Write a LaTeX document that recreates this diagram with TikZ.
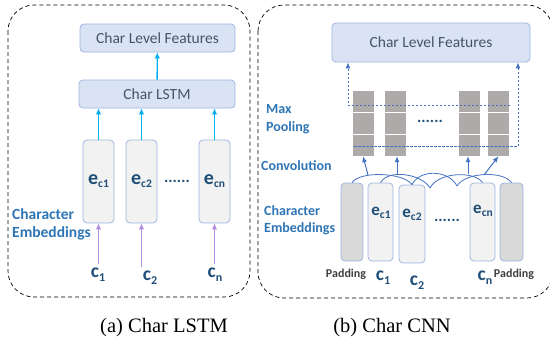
\documentclass[tikz,border=0pt]{standalone}
\usepackage{fontspec}
\setmainfont{Liberation Serif}
\newfontfamily\calibri{Carlito}
\usepackage{xcolor}
\usetikzlibrary{arrows.meta, positioning, shapes}
\definecolor{boxblue}{HTML}{DAE3F3}
\definecolor{edgeblue}{HTML}{9DB5E0}
\definecolor{slate}{HTML}{44546A}
\definecolor{navy}{HTML}{1F4E79}
\definecolor{lblblue}{HTML}{2E75B6}
\definecolor{cyanarr}{HTML}{00B0F0}
\definecolor{purparr}{HTML}{B08CE0}
\definecolor{darkarr}{HTML}{4472C4}
\definecolor{cellgray}{HTML}{AEAAAA}
\definecolor{padgray}{HTML}{D9D9D9}
\definecolor{embgray}{HTML}{F2F2F2}
\newcommand{\emb}[1]{e\raisebox{-3pt}{\fontsize{11.5}{11.5}\selectfont c#1}}
\newcommand{\chr}[1]{c\raisebox{-4pt}{\fontsize{12}{12}\selectfont #1}}

\begin{document}
\begin{tikzpicture}[x=1pt, y=-1pt,
    panel/.style={draw, dash pattern=on 4pt off 3pt, rounded corners=26pt, line width=0.7pt},
    featbox/.style={draw=edgeblue, fill=boxblue, rounded corners=4pt, line width=0.8pt, text=slate, font=\calibri\fontsize{15.5}{15.5}\selectfont},
    embbox/.style={draw=edgeblue, fill=embgray, rounded corners=4pt, line width=0.8pt, minimum width=31pt, minimum height=83pt, inner sep=0pt, text=navy, font=\calibri\bfseries\fontsize{20}{20}\selectfont},
    embboxB/.style={embbox, minimum width=25pt, minimum height=78pt},
    padbox/.style={embboxB, fill=padgray, minimum width=22pt},
    emblbl/.style={text=navy, inner sep=0pt, font=\calibri\bfseries\fontsize{17}{17}\selectfont},
    chrlbl/.style={anchor=base, inner sep=3pt, text=navy, font=\calibri\bfseries\fontsize{19.5}{19.5}\selectfont},
    sidelbl/.style={anchor=west, align=left, text=lblblue, inner sep=0pt},
    padlbl/.style={text=black!75, inner sep=0pt, font=\calibri\bfseries\fontsize{12}{12}\selectfont},
    dotlbl/.style={text=navy, inner sep=0pt, font=\calibri\bfseries\fontsize{16}{16}\selectfont},
    cell/.style={fill=cellgray, minimum width=21pt, minimum height=21pt, inner sep=0pt},
    cyanline/.style={draw=cyanarr, line width=1.4pt, -{Latex[length=6pt,width=5.5pt]}},
    purpline/.style={draw=purparr, line width=1.4pt, -{Latex[length=6pt,width=5.5pt]}},
    pooldash/.style={draw=darkarr, line width=0.9pt, dash pattern=on 2.5pt off 1.5pt, -{Latex[length=6pt,width=5pt]}},
    convline/.style={draw=darkarr, line width=0.8pt},
    convarrow/.style={draw=darkarr, line width=1pt, -{Latex[length=6pt,width=5pt]}},
    caption/.style={inner sep=0pt, font=\fontsize{20.5}{24}\selectfont}]
    \useasboundingbox (0,0) rectangle (550,341);
    \clip (0,0) rectangle (550,341);

    % (a) Char LSTM
    \draw[panel] (8,5) rectangle (250,297);
    \node[featbox, minimum width=155pt, minimum height=28pt] (featA) at (157.5,38) {Char Level Features};
    \node[featbox, minimum width=156pt, minimum height=28pt] (lstm) at (157,94) {Char LSTM};
    \node[embbox] (eA1) at (98.5,181.5) {\emb{1}};
    \node[embbox] (eA2) at (141.5,181.5) {\emb{2}};
    \node[embbox] (eAn) at (214.5,181.5) {\emb{n}};
    \node[dotlbl] (dotsA) at (177,181) {......};
    \node[sidelbl, font=\calibri\bfseries\fontsize{15.5}{18}\selectfont] (embA) at (12,224) {Character\\Embeddings};
    \node[chrlbl] (cA1) at (98,277) {\chr{1}};
    \node[chrlbl] (cA2) at (150,280) {\chr{2}};
    \node[chrlbl] (cAn) at (215,277) {\chr{n}};
    \draw[cyanline] (lstm) -- (featA);
    \foreach \e in {eA1,eA2,eAn} \draw[cyanline] (\e.north) -- (\e.north |- lstm.south);
    \foreach \c/\e in {cA1/eA1,cA2/eA2,cAn/eAn} \draw[purpline] (\e.south |- \c.north) -- (\e.south);

    % (b) Char CNN
    \draw[panel] (258,5) rectangle (553,298);
    \node[featbox, minimum width=198pt, minimum height=39pt] (featB) at (431,42.5) {Char Level Features};
    \foreach \i/\x in {1/363,2/395.5,3/469,4/498.5}
        \foreach \j/\y in {1/101.5,2/123.5,3/145.5}
            \node[cell] (g\i\j) at (\x,\y) {};
    \node[dotlbl] (dotsB) at (430,121) {......};
    \coordinate (poolL) at (348,105);
    \coordinate (poolR) at (510,105);
    \coordinate (convL) at (354,146);
    \coordinate (convR) at (518,146);
    \draw[pooldash] (poolR) -- (poolL) -- (poolL |- featB.south);
    \draw[pooldash] (convL) -- (convR) -- (convR |- featB.south);

    \node[padbox] (padL) at (352,222) {};
    \node[embboxB] (eB1) at (380.5,222) {};
    \node[embboxB, minimum width=26pt] (eB2) at (412,224) {};
    \node[embboxB] (eBn) at (482.5,222) {};
    \node[padbox, minimum width=23pt] (padR) at (511.5,222) {};
    \node[emblbl] (lB1) at (381,213) {\emb{1}};
    \node[emblbl] (lB2) at (412,215) {\emb{2}};
    \node[emblbl] (lBn) at (483,211) {\emb{n}};
    \node[dotlbl] (dotsC) at (447,220) {......};

    \coordinate (gap1) at (430,188);
    \coordinate (gap2) at (457,186);
    \draw[convline] (padL.north) .. controls +(8,-12) and +(-8,-12) .. (eB2.north);
    \draw[convline] (eB1.north) .. controls +(8,-14) and +(-8,-14) .. (gap1);
    \draw[convline] (eB2.north) .. controls +(8,-16) and +(-8,-16) .. (gap2);
    \draw[convline] (gap1) .. controls +(8,-16) and +(-8,-12) .. (eBn.north);
    \draw[convline] (gap2) .. controls +(8,-14) and +(-8,-12) .. (padR.north);
    \coordinate (k1) at (368,175);
    \coordinate (k2) at (397,174);
    \coordinate (k3) at (468,174);
    \coordinate (k4) at (484,175);
    \draw[convarrow] (k1) -- (g13.south);
    \draw[convarrow] (k2) -- (k2 |- g23.south);
    \draw[convarrow] (k3) -- (k3 |- g33.south);
    \draw[convarrow] (k4) -- (g43.south);

    \node[sidelbl, font=\calibri\bfseries\fontsize{14}{18}\selectfont] (pool) at (266,119) {Max\\Pooling};
    \node[sidelbl, font=\calibri\bfseries\fontsize{14}{18}\selectfont] (conv) at (261,166) {Convolution};
    \node[sidelbl, font=\calibri\bfseries\fontsize{14}{17}\selectfont] (embB) at (264,220) {Character\\Embeddings};
    \node[padlbl] (pL) at (346,274) {Padding};
    \node[padlbl] (pR) at (514,274) {Padding};
    \node[chrlbl] (cB1) at (383,280) {\chr{1}};
    \node[chrlbl] (cB2) at (417,285) {\chr{2}};
    \node[chrlbl] (cBn) at (485,280) {\chr{n}};

    \node[caption] (capA) at (164,328) {(a) Char LSTM};
    \node[caption] (capB) at (392,328) {(b) Char CNN};
\end{tikzpicture}
\end{document}
